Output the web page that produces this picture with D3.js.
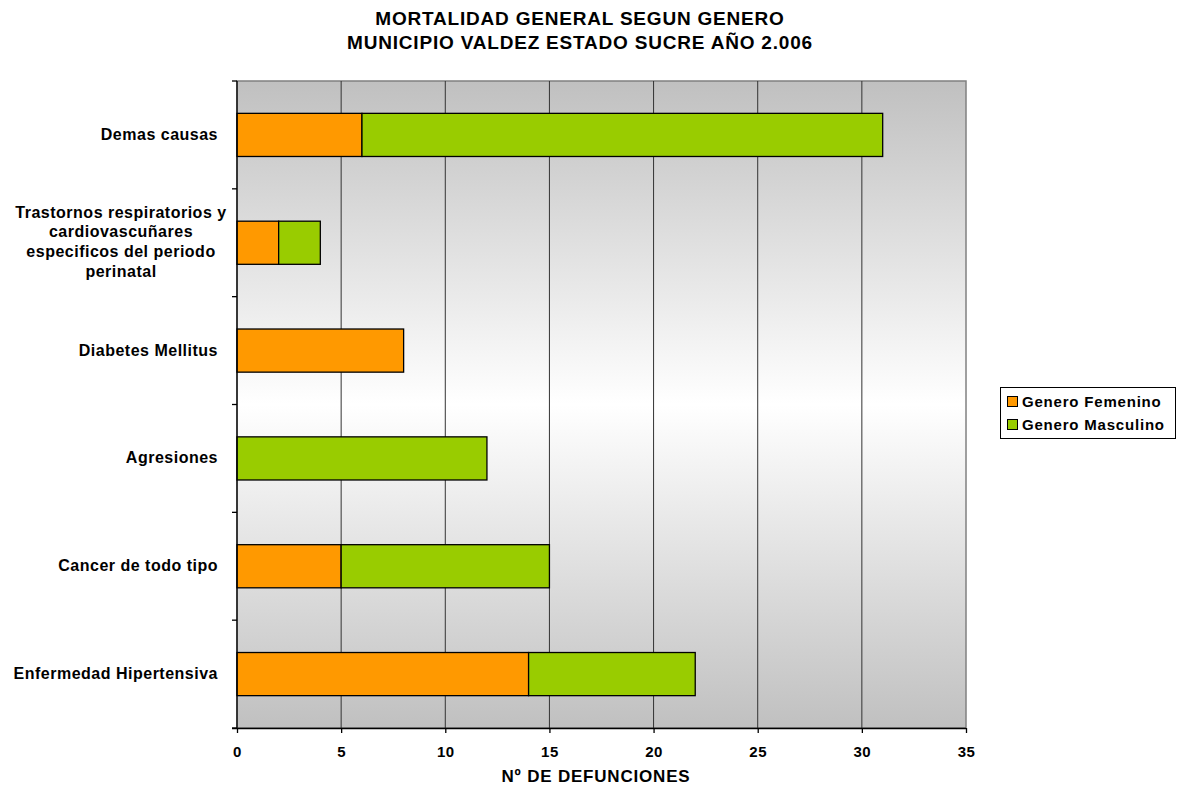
<!DOCTYPE html>
<html><head><meta charset="utf-8">
<script src="https://cdn.jsdelivr.net/npm/d3@7"></script>
<style>body{margin:0;background:#fff;} text{font-family:"Liberation Sans",Arial,sans-serif;font-weight:bold;}</style>
</head><body>
<svg id="c" width="1188" height="790"></svg>
<script>
const categories = ["Demas causas","Trastornos respiratorios y cardiovascuñares especificos del periodo perinatal","Diabetes Mellitus","Agresiones","Cancer de todo tipo","Enfermedad Hipertensiva"];
const catLines = [["Demas causas"],["Trastornos respiratorios y","cardiovascuñares","especificos del periodo","perinatal"],["Diabetes Mellitus"],["Agresiones"],["Cancer de todo tipo"],["Enfermedad Hipertensiva"]];
const femenino = [6,2,8,0,5,14];
const masculino = [25,2,0,12,10,8];
const seriesNames = ["Genero Femenino","Genero Masculino"];
const colors = ["#FF9900","#99CC00"];
const xTicks = [0,5,10,15,20,25,30,35];
const titleLines = ["MORTALIDAD GENERAL SEGUN GENERO","MUNICIPIO VALDEZ ESTADO SUCRE AÑO 2.006"];
const xTitle = "Nº DE DEFUNCIONES";

const svg = d3.select("#c");
const L=237,R=966,T=81,B=728;
const x = d3.scaleLinear().domain([0,35]).range([L,R]);
const y = d3.scaleBand().domain(categories).range([T,B]).paddingInner(0.6).paddingOuter(0.3);
const band = d3.scaleBand().domain(categories).range([T,B]);

const defs = svg.append("defs");
const g = defs.append("linearGradient").attr("id","bg").attr("x1",0).attr("y1",0).attr("x2",0).attr("y2",1);
g.append("stop").attr("offset","0%").attr("stop-color","#c0c0c0");
g.append("stop").attr("offset","50%").attr("stop-color","#ffffff");
g.append("stop").attr("offset","100%").attr("stop-color","#c0c0c0");

svg.append("rect").attr("x",L).attr("y",T).attr("width",R-L).attr("height",B-T).attr("fill","url(#bg)").attr("stroke","#808080").attr("stroke-width",1.5);

// gridlines
svg.append("g").selectAll("line").data(xTicks.slice(1,-1)).join("line")
  .attr("x1",d=>x(d)).attr("x2",d=>x(d)).attr("y1",T).attr("y2",B)
  .attr("stroke","#333").attr("stroke-width",1);

// bars
const stacked = categories.map((c,i)=>({c, segs:[{s:0,v0:0,v1:femenino[i]},{s:1,v0:femenino[i],v1:femenino[i]+masculino[i]}]}));
svg.append("g").selectAll("g").data(stacked).join("g").selectAll("rect")
  .data(d=>d.segs.filter(s=>s.v1>s.v0).map(s=>({...s,c:d.c}))).join("rect")
  .attr("x",d=>x(d.v0)).attr("width",d=>x(d.v1)-x(d.v0))
  .attr("y",d=>y(d.c)).attr("height",y.bandwidth())
  .attr("fill",d=>colors[d.s]).attr("stroke","#000").attr("stroke-width",1.3);

// x axis
const xa = svg.append("g").attr("transform",`translate(0,${B})`).call(d3.axisBottom(x).tickValues(xTicks).tickSize(5).tickPadding(13));
xa.select(".domain").attr("stroke","#000").attr("stroke-width",1.3).attr("d",`M${L-5},0.5H${R}`);
xa.selectAll(".tick line").attr("stroke","#000").attr("stroke-width",1.3);
xa.selectAll("text").attr("font-size",15).attr("font-weight","bold").attr("fill","#000").attr("font-family","Liberation Sans, Arial, sans-serif").attr("letter-spacing",0.5);

// y axis
svg.append("line").attr("x1",L).attr("x2",L).attr("y1",T).attr("y2",B).attr("stroke","#000").attr("stroke-width",1.3);
const yt = categories.map(c=>band(c)).concat([B]);
svg.append("g").selectAll("line").data(yt).join("line")
  .attr("x1",L-5).attr("x2",L).attr("y1",d=>d).attr("y2",d=>d).attr("stroke","#000").attr("stroke-width",1.3);

// category labels
const lab = svg.append("g");
categories.forEach((c,i)=>{
  const lines = catLines[i];
  const cy = band(c)+band.bandwidth()/2;
  const lh = 19.7;
  const t = lab.append("text").attr("font-size",16).attr("letter-spacing",0.5).attr("fill","#000");
  if(lines.length===1){
    t.attr("text-anchor","end").append("tspan").attr("x",218).attr("y",cy+5).text(lines[0]);
  } else {
    t.attr("text-anchor","middle");
    lines.forEach((ln,j)=>{
      t.append("tspan").attr("x",121).attr("y",cy+(j-(lines.length-1)/2)*lh+4.5).text(ln);
    });
  }
});

// titles
svg.append("g").selectAll("text").data(titleLines).join("text")
  .attr("x",580).attr("y",(d,i)=>25+i*23.5).attr("text-anchor","middle").attr("font-size",19).attr("letter-spacing",0.8).attr("fill","#000").text(d=>d);
svg.append("text").attr("x",596).attr("y",782).attr("text-anchor","middle").attr("font-size",17).attr("letter-spacing",0.8).attr("fill","#000").text(xTitle);

// legend
const lg = svg.append("g");
lg.append("rect").attr("x",1000.5).attr("y",387.5).attr("width",175).attr("height",51).attr("fill","#fff").attr("stroke","#000").attr("stroke-width",1);
seriesNames.forEach((n,i)=>{
  lg.append("rect").attr("x",1007.5).attr("y",396.5+i*23).attr("width",10).attr("height",10).attr("fill",colors[i]).attr("stroke","#000").attr("stroke-width",1);
  lg.append("text").attr("x",1022).attr("y",406.5+i*23).attr("font-size",15).attr("letter-spacing",0.8).attr("fill","#000").text(n);
});
</script>
</body></html>
